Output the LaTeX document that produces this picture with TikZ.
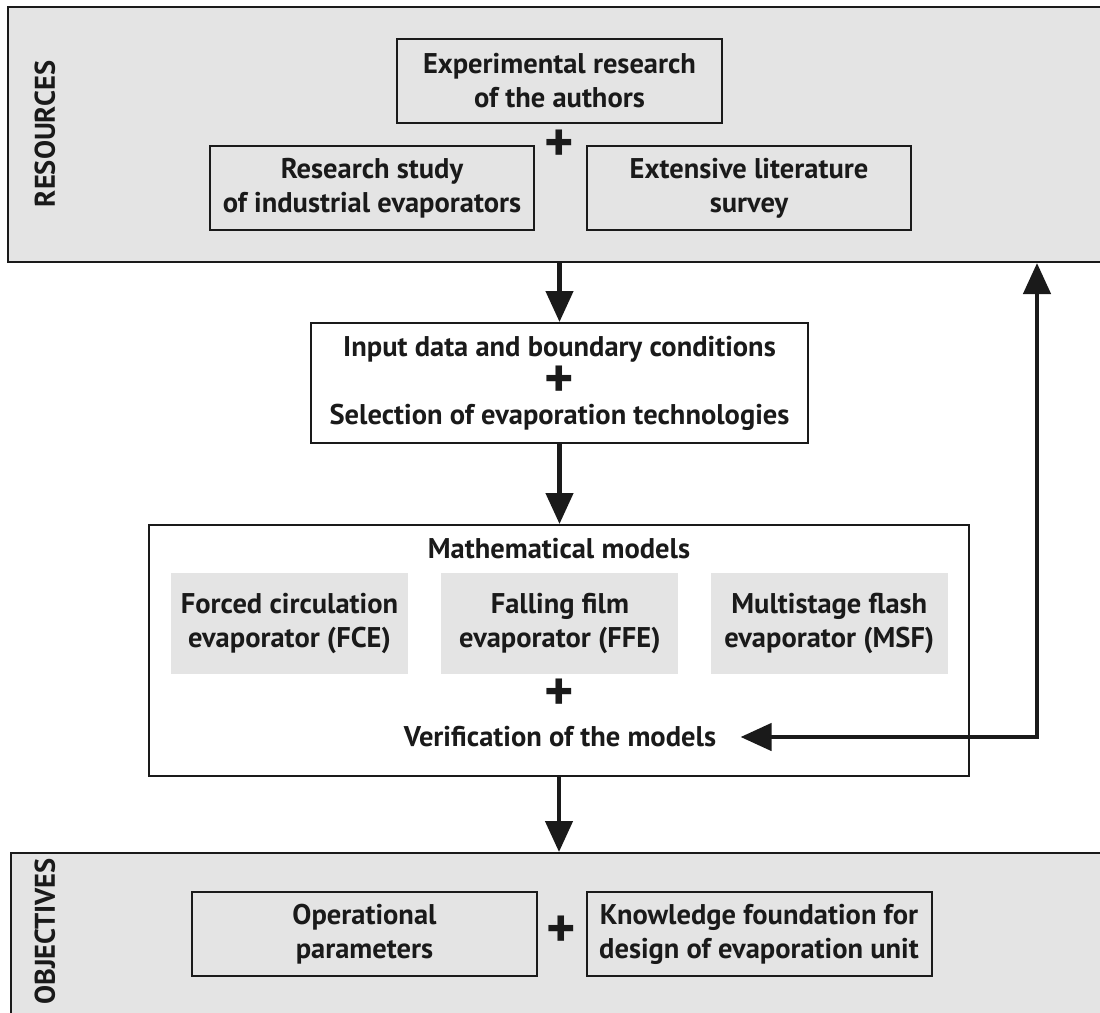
\documentclass[tikz,border=0pt]{standalone}
\usepackage{fontspec}
\setmainfont{PT Sans}
\usepackage{tikz}
\usetikzlibrary{arrows.meta,positioning,calc}
\definecolor{PanelGray}{HTML}{E4E4E4}
\definecolor{InkBlack}{HTML}{1A1A1A}
\tikzset{
  panel/.style={draw=InkBlack, line width=2pt, fill=PanelGray, minimum width=1096pt},
  source/.style={draw=InkBlack, line width=2pt, align=center, inner sep=0pt,
    minimum width=324pt, minimum height=84pt},
  stage/.style={draw=InkBlack, line width=2pt, fill=white, align=center, inner sep=0pt},
  model/.style={fill=PanelGray, align=center, inner sep=0pt,
    minimum width=237pt, minimum height=101pt},
  plussign/.style={font=\fontsize{56}{56}\selectfont\bfseries, inner sep=0pt,
    text height=26pt, text depth=-9pt},
  sidelabel/.style={rotate=90, font=\fontsize{28.5}{30}\selectfont\bfseries, inner sep=0pt},
  flow/.style={-{Triangle[length=31pt,width=27pt]}, line width=4.5pt, draw=InkBlack},
  backflow/.style={{Triangle[length=31pt,width=27pt]}-{Triangle[length=31pt,width=27pt]},
    line width=4.5pt, draw=InkBlack}
}

\begin{document}
\begin{tikzpicture}[x=1pt, y=-1pt, text=InkBlack,
    font=\fontsize{28.5}{34}\selectfont\bfseries]
  \useasboundingbox (0,0) rectangle (1100,1012);
  % resources
  \node[panel, minimum height=255pt] (resources) at (556,134.5) {};
  \node[sidelabel] (reslabel) at (45,134) {RESOURCES};
  \node[source, minimum width=325pt] (experiment) at (559.5,81) {Experimental research\\of the authors};
  \node[source] (industry) at (372,188) {Research study\\of industrial evaporators};
  \node[source, right=51pt of industry] (literature) {Extensive literature\\survey};
  \node[plussign] (plusres) at (559,148) {+};
  % input
  \node[stage, minimum width=497pt, minimum height=120pt] (input) at (559.5,383) {};
  \node (inputdata) at (559.5,349) {Input data and boundary conditions};
  \node[plussign] (plusinput) at ([yshift=-1pt]input.center) {+};
  \node (selection) at (559.5,417) {Selection of evaporation technologies};
  % models
  \node[stage, minimum width=820pt, minimum height=251pt] (models) at (559,650.5) {};
  \node (modeltitle) at (559,549) {Mathematical models};
  \node[model] (fce) at (289.5,623.5) {Forced circulation\\evaporator (FCE)};
  \node[model, right=33pt of fce] (ffe) {Falling film\\evaporator (FFE)};
  \node[model, right=32pt of ffe] (msf) {Multistage flash\\evaporator (MSF)};
  \node[plussign] (plusmodel) at (559,697) {+};
  \node (verify) at (560,737) {Verification of the models};
  % objectives
  \node[panel, minimum height=177pt] (objectives) at (559,941.5) {};
  \node[sidelabel, anchor=east] (objlabel) at (45,858) {OBJECTIVES};
  \node[source, minimum width=345pt] (operation) at (364.5,934) {Operational\\parameters};
  \node[plussign] (plusobj) at (561,934) {+};
  \node[source, minimum width=345pt] (knowledge) at (759,934) {Knowledge foundation for\\design of evaporation unit};
  % connectors
  \coordinate (turn) at (1037,737);
  \draw[flow] (resources.south -| input.north) -- (input.north);
  \draw[flow] (input.south) -- (input.south |- models.north);
  \draw[flow] (models.south) -- (models.south |- objectives.north);
  \draw[backflow] ($(verify.east)+(21,0)$) -- (turn) -- (turn |- resources.south);
\end{tikzpicture}
\end{document}
